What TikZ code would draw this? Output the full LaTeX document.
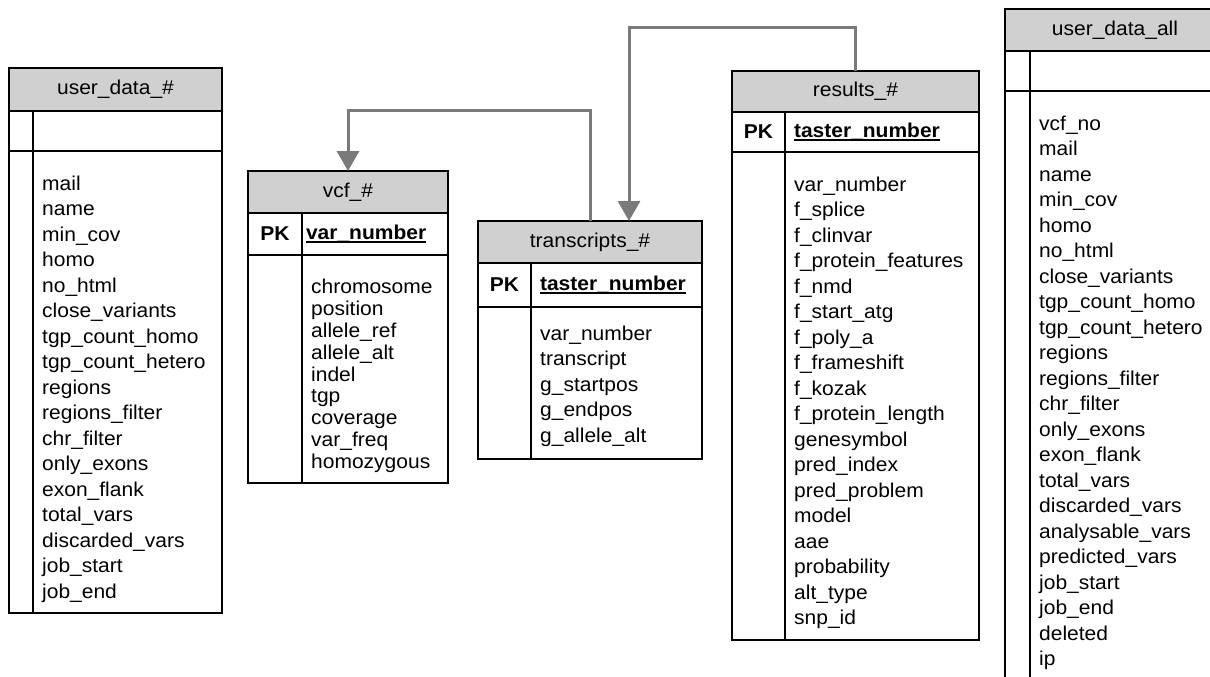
\documentclass[tikz,border=0pt]{standalone}
\usepackage{fontspec}
\setmainfont[FakeStretch=1.05]{Liberation Sans}
\usetikzlibrary{arrows.meta}

\definecolor{hdrgray}{RGB}{208,208,208}
\definecolor{relgray}{RGB}{122,122,122}
\newcommand\erfont{\fontsize{20}{25.5}\selectfont}
\newcommand\keyul[1]{\setbox0\hbox{#1}\rlap{\rule[-0.16em]{\wd0}{0.09em}}\box0}

\tikzset{
  tblcell/.style={draw, line width=1.5pt, anchor=north west, inner sep=0pt, outer sep=0pt},
  tblhead/.style={tblcell, fill=hdrgray},
  keycell/.style={tblcell, align=left, inner xsep=9pt, font=\erfont\bfseries},
  fields/.style={anchor=north west, inner sep=0pt, align=left},
  rel/.style={draw=relgray, line width=3pt, -{Triangle[width=22pt,length=20pt]}},
}

\begin{document}
\begin{tikzpicture}[x=1pt, y=-1pt, every node/.style={font=\erfont}]
\useasboundingbox (0,0) rectangle (1210,677);
\clip (0,0) rectangle (1210,677);

% user_data_#
\node[tblhead, minimum width=213pt, minimum height=43pt] (udH) at (9,68) {user\_data\_\#};
\node[tblcell, minimum width=24pt, minimum height=40pt] (udpk) at (udH.south west) {};
\node[tblcell, minimum width=189pt, minimum height=40pt] (udkey) at (udpk.north east) {};
\node[tblcell, minimum width=24pt, minimum height=462pt] (udside) at (udpk.south west) {};
\node[tblcell, minimum width=189pt, minimum height=462pt] (udbody) at (udside.north east) {};
\node[fields] (udlist) at ([shift={(9,21)}]udbody.north west)
  {\strut mail\\name\\min\_cov\\homo\\no\_html\\close\_variants\\tgp\_count\_homo\\
   tgp\_count\_hetero\\regions\\regions\_filter\\chr\_filter\\only\_exons\\exon\_flank\\
   total\_vars\\discarded\_vars\\job\_start\\job\_end};

% vcf_#
\node[tblhead, minimum width=200pt, minimum height=42pt] (vcfH) at (248,171) {vcf\_\#};
\node[tblcell, minimum width=54pt, minimum height=42pt, font=\erfont\bfseries] (vcfpk) at (vcfH.south west) {PK};
\node[keycell, minimum width=146pt, minimum height=42pt, text width=138pt, inner xsep=4pt] (vcfkey) at (vcfpk.north east) {\keyul{var\_number}};
\node[tblcell, minimum width=54pt, minimum height=228pt] (vcfside) at (vcfpk.south west) {};
\node[tblcell, minimum width=146pt, minimum height=228pt] (vcfbody) at (vcfside.north east) {};
\node[fields, font=\fontsize{20}{21.8}\selectfont] (vcflist) at ([shift={(9,23.5)}]vcfbody.north west)
  {\strut chromosome\\position\\allele\_ref\\allele\_alt\\indel\\tgp\\coverage\\var\_freq\\homozygous};

% transcripts_#
\node[tblhead, minimum width=224pt, minimum height=42pt] (trH) at (478,221) {transcripts\_\#};
\node[tblcell, minimum width=53pt, minimum height=44pt, font=\erfont\bfseries] (trpk) at (trH.south west) {PK};
\node[keycell, minimum width=171pt, minimum height=44pt, text width=153pt] (trkey) at (trpk.north east) {\keyul{taster\_number}};
\node[tblcell, minimum width=53pt, minimum height=152pt] (trside) at (trpk.south west) {};
\node[tblcell, minimum width=171pt, minimum height=152pt] (trbody) at (trside.north east) {};
\node[fields] (trlist) at ([shift={(9,15)}]trbody.north west)
  {\strut var\_number\\transcript\\g\_startpos\\g\_endpos\\g\_allele\_alt};

% results_#
\node[tblhead, minimum width=247pt, minimum height=41pt] (resH) at (732,71) {results\_\#};
\node[tblcell, minimum width=53pt, minimum height=40pt, font=\erfont\bfseries] (respk) at (resH.south west) {PK};
\node[keycell, minimum width=194pt, minimum height=40pt, text width=176pt] (reskey) at (respk.north east) {\keyul{taster\_number}};
\node[tblcell, minimum width=53pt, minimum height=488pt] (resside) at (respk.south west) {};
\node[tblcell, minimum width=194pt, minimum height=488pt] (resbody) at (resside.north east) {};
\node[fields] (reslist) at ([shift={(9,21)}]resbody.north west)
  {\strut var\_number\\f\_splice\\f\_clinvar\\f\_protein\_features\\f\_nmd\\f\_start\_atg\\
   f\_poly\_a\\f\_frameshift\\f\_kozak\\f\_protein\_length\\genesymbol\\pred\_index\\
   pred\_problem\\model\\aae\\probability\\alt\_type\\snp\_id};

% user_data_all
\node[tblhead, minimum width=220pt, minimum height=42pt] (udaH) at (1005,9) {user\_data\_all};
\node[tblcell, minimum width=25pt, minimum height=40pt] (udapk) at (udaH.south west) {};
\node[tblcell, minimum width=195pt, minimum height=40pt] (udakey) at (udapk.north east) {};
\node[tblcell, minimum width=25pt, minimum height=629pt] (udaside) at (udapk.south west) {};
\node[tblcell, minimum width=195pt, minimum height=629pt] (udabody) at (udaside.north east) {};
\node[fields] (udalist) at ([shift={(9,21)}]udabody.north west)
  {\strut vcf\_no\\mail\\name\\min\_cov\\homo\\no\_html\\close\_variants\\tgp\_count\_homo\\
   tgp\_count\_hetero\\regions\\regions\_filter\\chr\_filter\\only\_exons\\exon\_flank\\
   total\_vars\\discarded\_vars\\analysable\_vars\\predicted\_vars\\job\_start\\job\_end\\
   deleted\\ip};

% relations
\coordinate (trin) at ([xshift=151pt]trH.north west);
\draw[rel] (trH.north) -- ++(0,-111) -| (vcfH.north);
\draw[rel] (resH.north) -- ++(0,-43) -| (trin);
\end{tikzpicture}
\end{document}
